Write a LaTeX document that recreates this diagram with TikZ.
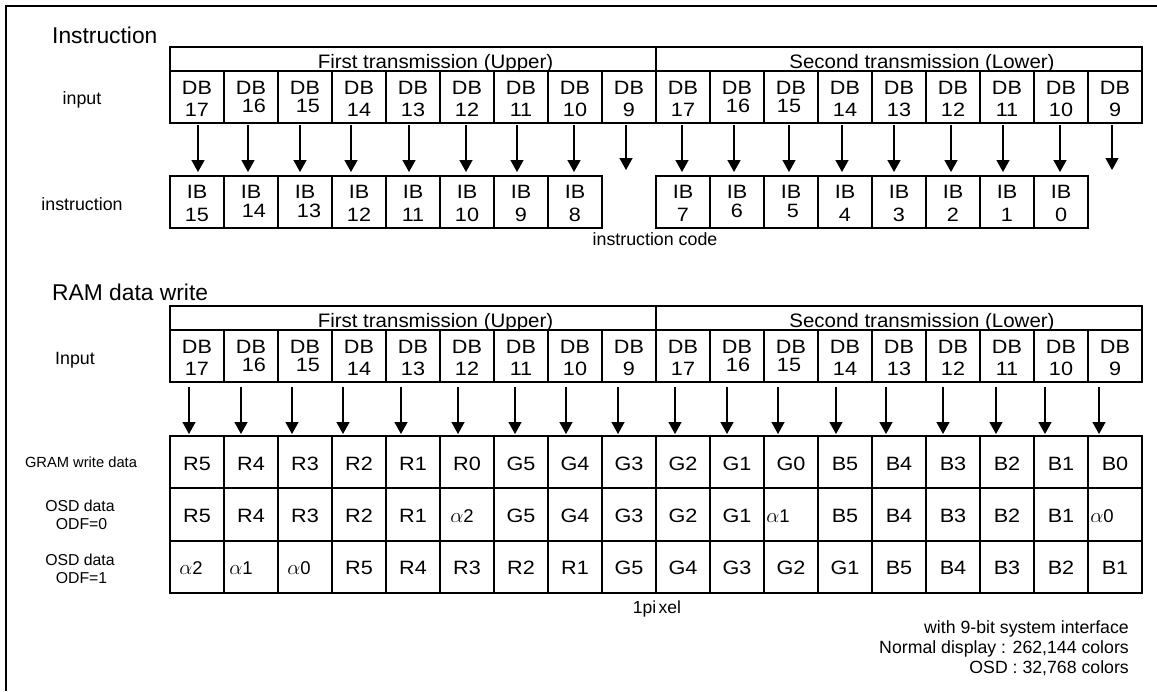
\documentclass[tikz,border=0pt]{standalone}
\usepackage{fontspec}
\setmainfont{Liberation Sans}
\newfontfamily\cellfont[FakeStretch=1.12]{Liberation Sans}
\newfontfamily\hdrfont[FakeStretch=1.05]{Liberation Sans}
\usetikzlibrary{arrows.meta}
\newcommand\alp{{\fontsize{21}{20}\selectfont$\alpha$}}
\begin{document}
\begin{tikzpicture}[x=1pt,y=-1pt,
 cell/.style={draw, line width=2.5pt, minimum width=54pt, minimum height=52pt, inner sep=0pt, outer sep=0pt},
 hdr/.style={draw, line width=2.5pt, minimum width=486pt, minimum height=24pt, inner sep=0pt, outer sep=0pt},
 ctext/.style={inner sep=0pt, font=\cellfont\fontsize{19.3}{20}\selectfont},
 atext/.style={inner sep=0pt, font=\fontsize{18.5}{19}\selectfont},
 htext/.style={inner sep=0pt, anchor=base, font=\hdrfont\fontsize{19.5}{20}\selectfont},
 title/.style={inner sep=0pt, anchor=base west, font=\fontsize{22.8}{24}\selectfont},
 lbl/.style={inner sep=0pt, anchor=base, font=\fontsize{17.8}{19}\selectfont},
 slbl/.style={inner sep=0pt, anchor=base, font=\fontsize{15.8}{16}\selectfont},
 note/.style={inner sep=0pt, anchor=base east, font=\fontsize{17.7}{18}\selectfont},
 arr/.style={line width=1.6pt, -{Triangle[width=13pt,length=12pt]}}
]
\useasboundingbox (0,0) rectangle (1157,691);
% frame
\draw[line width=2.8pt] (6,691) -- (6,6) -- (1157,6);

% titles and labels
\node[title] (t1) at (52,43) {Instruction};
\node[title] (t2) at (52,300) {RAM data write};
\node[lbl] (l1) at (82,104) {input};
\node[lbl] (l2) at (82,210) {instruction};
\node[lbl] (l3) at (75,364) {Input};
\node[inner sep=0pt, anchor=base, font=\fontsize{14.7}{15}\selectfont] (l4) at (81,467) {GRAM write data};
\node[slbl] (l5) at (80,511) {OSD data};
\node[slbl] (l6) at (81.5,529) {ODF=0};
\node[slbl] (l7) at (80,565) {OSD data};
\node[slbl] (l8) at (81.5,583) {ODF=1};

% headers
\node[hdr] (th1) at (413,59) {};
\node[hdr] (th2) at (899,59) {};
\node[hdr] (bh1) at (413,318) {};
\node[hdr] (bh2) at (899,318) {};
\node[htext] (th1t) at (435.5,68) {First transmission (Upper)};
\node[htext] (th2t) at (922,68) {Second transmission (Lower)};
\node[htext] (bh1t) at (435.5,327) {First transmission (Upper)};
\node[htext] (bh2t) at (922,327) {Second transmission (Lower)};

% cells
\foreach \i in {1,...,18} {
  \node[cell] (tdb\i) at ({170+54*\i-27},97) {};
  \node[cell] (bdb\i) at ({170+54*\i-27},356) {};
  \node[cell] (gram\i) at ({170+54*\i-27},462) {};
  \node[cell, minimum height=53pt] (osda\i) at ({170+54*\i-27},514.5) {};
  \node[cell] (osdb\i) at ({170+54*\i-27},567) {};
}
% DB texts
\foreach \i/\n/\dx/\dy in {1/17/0/0, 2/16/3/-4, 3/15/3/-4, 4/14/0/0, 5/13/0/0, 6/12/0/0, 7/11/0/0, 8/10/0/0, 9/9/0/0,
  10/17/0/0, 11/16/1/-4, 12/15/-2/-4, 13/14/0/0, 14/13/0/0, 15/12/0/0, 16/11/0/0, 17/10/0/0, 18/9/0/0} {
  \node[ctext] (tdbl\i) at ({170+54*\i-27},88) {DB};
  \node[ctext] (tdbn\i) at ({170+54*\i-27+\dx},{110+\dy}) {\n};
  \node[ctext] (bdbl\i) at ({170+54*\i-27},347) {DB};
  \node[ctext] (bdbn\i) at ({170+54*\i-27+\dx},{369+\dy}) {\n};
}
% IB cells
\foreach \i/\n/\dx/\dy in {1/15/0/0, 2/14/3/-4, 3/13/4/-4, 4/12/0/0, 5/11/0/0, 6/10/0/0, 7/9/0/0, 8/8/0/0,
  10/7/0/0, 11/6/0/-4, 12/5/2/-4, 13/4/0/0, 14/3/0/0, 15/2/0/0, 16/1/0/0, 17/0/0/0} {
  \node[cell] (tib\i) at ({170+54*\i-27},202) {};
  \node[ctext] (tibl\i) at ({170+54*\i-27},192) {IB};
  \node[ctext] (tibn\i) at ({170+54*\i-27+\dx},{215+\dy}) {\n};
}
\node[lbl] (code) at (655,245.6) {instruction code};

% GRAM row
\foreach \i/\t in {1/R5, 2/R4, 3/R3, 4/R2, 5/R1, 6/R0, 7/G5, 8/G4, 9/G3, 10/G2, 11/G1, 12/G0, 13/B5, 14/B4, 15/B3, 16/B2, 17/B1, 18/B0}
  \node[ctext] (gramt\i) at ({170+54*\i-27},464) {\t};
% OSD ODF=0
\foreach \i/\t in {1/R5, 2/R4, 3/R3, 4/R2, 5/R1, 7/G5, 8/G4, 9/G3, 10/G2, 11/G1, 13/B5, 14/B4, 15/B3, 16/B2, 17/B1}
  \node[ctext] (osdat\i) at ({170+54*\i-27},516) {\t};
\node[atext] (osdat6) at (462,516) {\alp2};
\node[atext] (osdat12) at (778,516) {\alp1};
\node[atext] (osdat18) at (1102,516) {\alp0};
% OSD ODF=1
\node[atext] (osdbt1) at (191,568) {\alp2};
\node[atext] (osdbt2) at (241,568) {\alp1};
\node[atext] (osdbt3) at (299,568) {\alp0};
\foreach \i/\t in {4/R5, 5/R4, 6/R3, 7/R2, 8/R1, 9/G5, 10/G4, 11/G3, 12/G2, 13/G1, 14/B5, 15/B4, 16/B3, 17/B2, 18/B1}
  \node[ctext] (osdbt\i) at ({170+54*\i-27},568) {\t};

\node[inner sep=0pt, anchor=base, font=\fontsize{17.5}{18}\selectfont] (pix) at (657,613) {1pi\kern2.5pt{}xel};

% notes
\node[note] (n1) at (1129,633) {with 9-bit system interface};
\node[note] (n2) at (1129,653) {Normal display : 262,144 colors};
\node[note] (n3) at (1129,673) {OSD : 32,768 colors};

% top arrows
\foreach \i/\x in {1/198, 2/248, 3/300, 4/351, 5/409, 6/466, 7/517, 8/574, 9/626, 10/682, 11/734, 12/789, 13/842, 14/894, 15/951, 16/1003, 17/1060, 18/1112}
  \coordinate (tx\i) at (\x,0);
\foreach \i in {1,2,3,4,5,6,7,8,10,11,12,13,14,15,16,17}
  \draw[arr, shorten <=2pt, shorten >=4pt] (tdb\i.south -| tx\i) -- (tib\i.north -| tx\i);
\coordinate (tend9) at (626,170);
\coordinate (tend18) at (1112,170);
\draw[arr, shorten <=2pt] (tdb9.south -| tend9) -- (tend9);
\draw[arr, shorten <=2pt] (tdb18.south -| tend18) -- (tend18);

% bottom arrows
\foreach \i/\x in {1/189, 2/241, 3/292, 4/343, 5/401, 6/458, 7/515, 8/566, 9/618, 10/675, 11/727, 12/778, 13/836, 14/886, 15/943, 16/996, 17/1045, 18/1099} {
  \coordinate (bx\i) at (\x,0);
  \draw[arr, shorten <=5pt, shorten >=2pt] (bdb\i.south -| bx\i) -- (gram\i.north -| bx\i);
}
\end{tikzpicture}
\end{document}
